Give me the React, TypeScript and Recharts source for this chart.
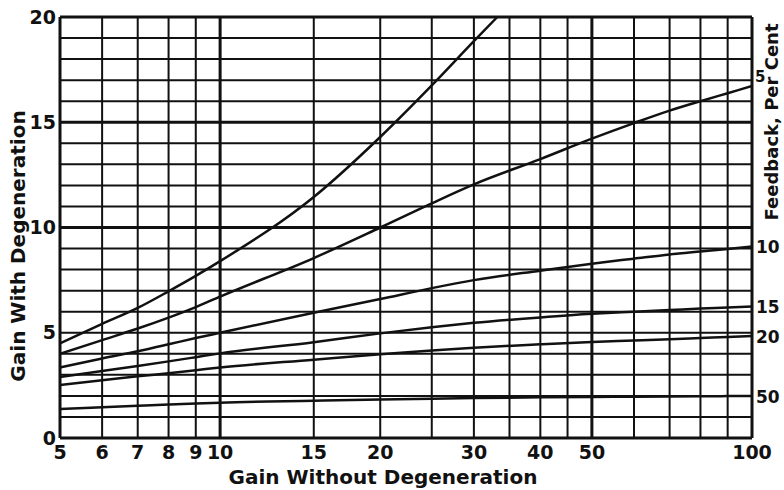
import { LineChart, Line, XAxis, YAxis, ReferenceLine } from 'recharts'

// gain without degeneration (log axis) read at the grid lines
const gainX = [5, 6, 7, 8, 9, 10, 15, 20, 25, 30, 40, 50, 60, 70, 80, 90, 100]

// the uppermost curve leaves the top of the chart near 33
const fb2X = [5, 6, 7, 8, 9, 10, 15, 20, 25, 30, 33.2]
const fb2 = [4.5, 5.42, 6.18, 6.97, 7.7, 8.4, 11.45, 14.3, 16.75, 18.85, 20]

const fb5 = [4.0, 4.65, 5.2, 5.72, 6.22, 6.72, 8.55, 10.0, 11.15, 12.05, 13.25, 14.22, 14.96, 15.55, 16.0, 16.38, 16.72]
const fb10 = [3.35, 3.78, 4.12, 4.45, 4.75, 5.0, 5.95, 6.6, 7.12, 7.5, 7.95, 8.28, 8.52, 8.72, 8.86, 8.98, 9.1]
const fb15 = [2.9, 3.18, 3.42, 3.64, 3.84, 4.02, 4.55, 4.97, 5.26, 5.47, 5.73, 5.9, 6.0, 6.08, 6.15, 6.2, 6.25]
const fb20 = [2.52, 2.74, 2.93, 3.08, 3.22, 3.35, 3.72, 3.98, 4.16, 4.29, 4.45, 4.56, 4.63, 4.69, 4.75, 4.8, 4.85]
const fb50 = [1.38, 1.46, 1.53, 1.59, 1.64, 1.68, 1.77, 1.83, 1.87, 1.9, 1.93, 1.95, 1.96, 1.97, 1.98, 1.99, 2.0]

const xTicks = [5, 6, 7, 8, 9, 10, 15, 20, 30, 40, 50, 100]
const yTicks = [0, 5, 10, 15, 20]
const gridX = [5, 6, 7, 8, 9, 10, 15, 20, 25, 30, 35, 40, 45, 50, 60, 70, 80, 90, 100]
const gridY = Array.from({ length: 21 }, (_, i) => i)
const majorX = [5, 10, 50, 100]
const majorY = [0, 10, 15, 20]

const data = gainX.map((g, i) => ({
  gain: g,
  fb5: fb5[i],
  fb10: fb10[i],
  fb15: fb15[i],
  fb20: fb20[i],
  fb50: fb50[i],
}))
const data2 = fb2X.map((g, i) => ({ gain: g, fb2: fb2[i] }))

const INK = '#111'
const FONT = '"DejaVu Sans", sans-serif'

function endLabel(text: string, lastIndex: number, dx: number, dy: number, size = 17) {
  return (props: any) => {
    if (props.index !== lastIndex) return <g />
    return (
      <text x={props.x + dx} y={props.y + dy} fontFamily={FONT} fontWeight="bold" fontSize={size} fill={INK}>
        {text}
      </text>
    )
  }
}

export default function App() {
  const last = gainX.length - 1
  return (
    <div style={{ position: 'absolute', left: 0, top: 0, width: 784, height: 490, background: '#fff' }}>
      <LineChart width={784} height={490} data={data} margin={{ top: 17, right: 32, bottom: 0, left: 0 }}>
        <XAxis
          dataKey="gain"
          type="number"
          scale="log"
          domain={[5, 100]}
          ticks={xTicks}
          allowDataOverflow
          height={52}
          tickLine={false}
          axisLine={false}
          tickSize={0}
          tickMargin={8}
          tick={{ fontSize: 19, fontWeight: 'bold', fill: INK, fontFamily: FONT }}
          interval={0}
        />
        <YAxis
          type="number"
          domain={[0, 20]}
          ticks={yTicks}
          width={60}
          tickLine={false}
          axisLine={false}
          tickSize={0}
          tickMargin={4}
          tick={{ fontSize: 19, fontWeight: 'bold', fill: INK, fontFamily: FONT }}
        />
        {gridX.map((v) => (
          <ReferenceLine key={'x' + v} x={v} stroke={INK} strokeWidth={majorX.includes(v) ? 3 : 2} />
        ))}
        {gridY.map((v) => (
          <ReferenceLine key={'y' + v} y={v} stroke={INK} strokeWidth={majorY.includes(v) ? 3 : 2} />
        ))}
        <Line data={data2} dataKey="fb2" type="monotone" stroke={INK} strokeWidth={2.5} dot={false} isAnimationActive={false} />
        <Line dataKey="fb5" type="monotone" stroke={INK} strokeWidth={2.5} dot={false} isAnimationActive={false} label={endLabel('5', last, 3, -4, 15)} />
        <Line dataKey="fb10" type="monotone" stroke={INK} strokeWidth={2.5} dot={false} isAnimationActive={false} label={endLabel('10', last, 4, 7)} />
        <Line dataKey="fb15" type="monotone" stroke={INK} strokeWidth={2.5} dot={false} isAnimationActive={false} label={endLabel('15', last, 4, 7)} />
        <Line dataKey="fb20" type="monotone" stroke={INK} strokeWidth={2.5} dot={false} isAnimationActive={false} label={endLabel('20', last, 4, 7)} />
        <Line dataKey="fb50" type="monotone" stroke={INK} strokeWidth={2.5} dot={false} isAnimationActive={false} label={endLabel('50', last, 4, 7)} />
      </LineChart>
      <svg width={784} height={490} style={{ position: 'absolute', left: 0, top: 0, pointerEvents: 'none' }}>
        <text x={383} y={484} textAnchor="middle" fontFamily={FONT} fontWeight="bold" fontSize={20} fill={INK}>
          Gain Without Degeneration
        </text>
        <text transform="translate(25,246) rotate(-90)" textAnchor="middle" fontFamily={FONT} fontWeight="bold" fontSize={20} fill={INK}>
          Gain With Degeneration
        </text>
        <text transform="translate(778,122) rotate(-90)" textAnchor="middle" fontFamily={FONT} fontWeight="bold" fontSize={18} fill={INK}>
          Feedback, Per Cent
        </text>
      </svg>
    </div>
  )
}
